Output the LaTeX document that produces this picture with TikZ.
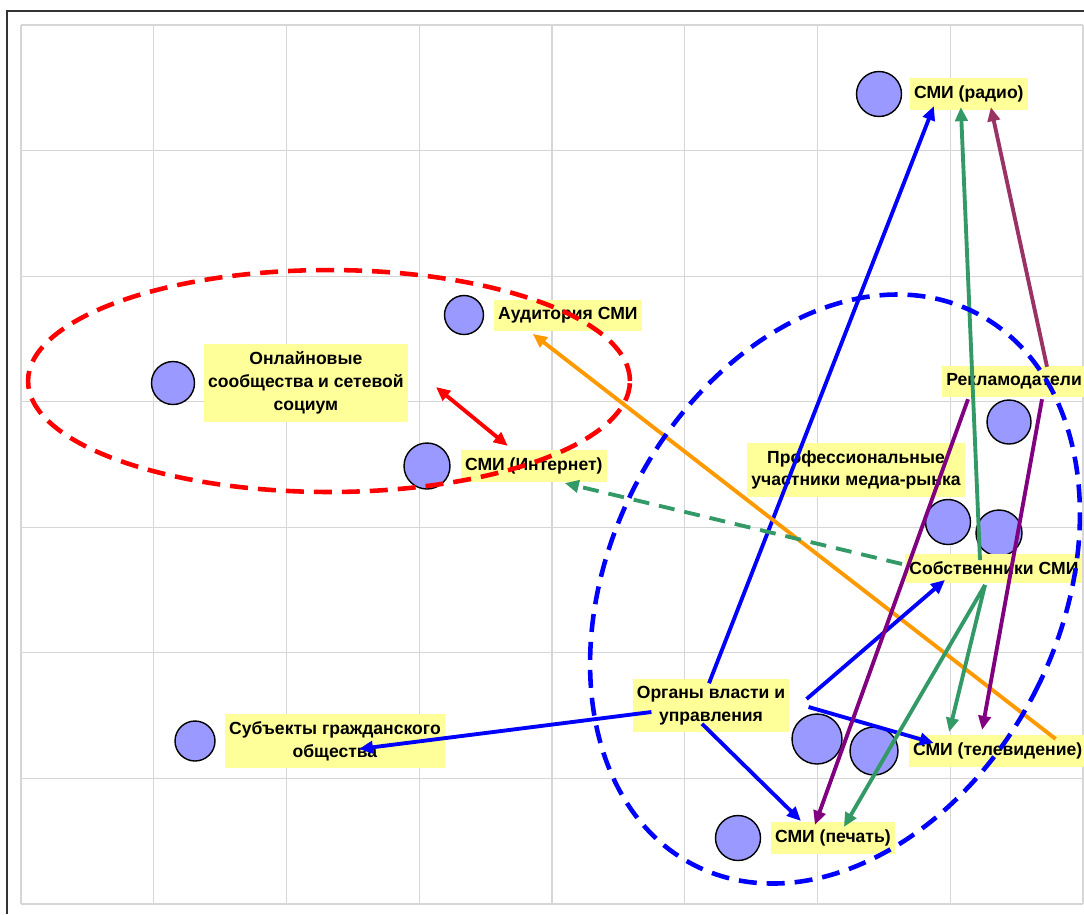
\documentclass[tikz,border=0pt]{standalone}
\usepackage{fontspec}
\setmainfont{Liberation Sans}
\usetikzlibrary{arrows.meta,calc,positioning}

\definecolor{bubblefill}{HTML}{9999FF}
\definecolor{tagfill}{HTML}{FFFF99}
\definecolor{owngreen}{HTML}{339966}
\definecolor{admaroon}{HTML}{993366}
\definecolor{adviolet}{HTML}{800080}
\definecolor{audorange}{HTML}{FF9900}
\definecolor{gridgray}{HTML}{D6D6D6}
\definecolor{framegray}{HTML}{333333}

\begin{document}
\begin{tikzpicture}[x=0.02cm,y=-0.02cm]
\tikzstyle{bubble}=[circle,draw=black,line width=0.8pt,fill=bubblefill,inner sep=0pt]
\tikzstyle{mtag}=[fill=tagfill,align=center,inner xsep=2.3pt,inner ysep=4.3pt,font=\fontsize{10}{13}\selectfont\bfseries]
\tikzstyle{mflow}=[line width=2.2pt,-{Triangle[length=8pt,width=7pt]}]
\tikzstyle{ring}=[line width=2.6pt,dash pattern=on 0.36cm off 0.2cm]
	\useasboundingbox (0,0) rectangle (1084,914);
	\clip (0,0) rectangle (1084,914);

	\foreach \i in {0,...,8}
		\draw[gridgray,line width=0.6pt] ({21+132.75*\i},25) -- ({21+132.75*\i},904);
	\foreach \j in {0,...,7}
		\draw[gridgray,line width=0.6pt] (21,{25+125.57*\j}) -- (1083,{25+125.57*\j});
	\draw[framegray,line width=1.2pt] (7,914) -- (7,11) -- (1084,11);

	\node[bubble,minimum size=0.9cm] (radio) at (879,94) {};
	\node[bubble,minimum size=0.78cm] (aud) at (464,315) {};
	\node[bubble,minimum size=0.86cm] (onl) at (173,383) {};
	\node[bubble,minimum size=0.92cm] (int) at (427,466) {};
	\node[bubble,minimum size=0.8cm] (subj) at (195,741) {};
	\node[bubble,minimum size=0.88cm] (rekl) at (1009,422) {};
	\node[bubble,minimum size=0.9cm] (prof) at (948,522) {};
	\node[bubble,minimum size=0.92cm] (sobs) at (999,533) {};
	\node[bubble,minimum size=1cm] (org) at (817,739) {};
	\node[bubble,minimum size=0.96cm] (tv) at (874,751) {};
	\node[bubble,minimum size=0.9cm] (pech) at (738,838) {};

	\node[mtag,right=0.15cm of radio] (lradio) {СМИ (радио)};
	\node[mtag,right=0.19cm of aud] (laud) {Аудитория СМИ};
	\node[mtag,right=0.17cm of onl] (lonl) {Онлайновые\\сообщества и сетевой\\социум};
	\node[mtag,right=0.2cm of int] (lint) {СМИ (Интернет)};
	\node[mtag,right=0.18cm of subj] (lsubj) {Субъекты гражданского\\общества};
	\node[mtag,anchor=west] (lrekl) at (942,381.5) {Рекламодатели};
	\node[mtag] (lprof) at (856,470) {Профессиональные\\участники медиа-рынка};
	\node[mtag,anchor=west] (lsobs) at (905,568.5) {Собственники СМИ};
	\node[mtag] (lorg) at (711,705.5) {Органы власти и\\управления};
	\node[mtag,right=0.19cm of pech] (lpech) {СМИ (печать)};
	\node[mtag,right=0.2cm of tv] (ltv) {СМИ (телевидение)};

	\draw[mflow,blue] ($(lorg.north)+(-2,5)$) -- ($(lradio.south)+(-35,-4)$);
	\draw[mflow,owngreen] ($(lsobs.north west)+(75,6)$) -- ($(lradio.south)+(-8,-3)$);
	\draw[mflow,admaroon] ($(lrekl.north west)+(105,1)$) -- ($(lradio.south)+(22,-3)$);
	\draw[mflow,audorange] ($(ltv.north east)+(-31,4)$) -- ($(laud.south)+(-35,3)$);
	\draw[mflow,red,{Triangle[length=8pt,width=7pt]}-{Triangle[length=8pt,width=7pt]}] ($(lonl.east)+(28,4)$) -- ($(lint.north)+(-26,-4)$);
	\draw[mflow,owngreen,dash pattern=on 0.32cm off 0.2cm] ($(lsobs.west)+(-3,-4.5)$) -- ($(lint.south)+(31,1)$);
	\draw[mflow,blue] ($(lorg.west)+(19,6.5)$) -- ($(lsubj.center)+(24,8)$);
	\draw[mflow,blue] ($(lorg.east)+(17,-6.5)$) -- ($(lsobs.south west)+(40,-3)$);
	\draw[mflow,blue] ($(lorg.east)+(19,1.5)$) -- ($(ltv.west)+(25,-8)$);
	\draw[mflow,blue] ($(lorg.south)+(-9,-9)$) -- ($(lpech.north)+(-32,-1)$);
	\draw[mflow,adviolet] ($(lrekl.south west)+(26,2)$) -- ($(lpech.north)+(-18,3)$);
	\draw[mflow,adviolet] ($(lrekl.south west)+(100,2)$) -- ($(ltv.north)+(-15.5,-5)$);
	\draw[mflow,owngreen] ($(lsobs.south west)+(80,2)$) -- ($(ltv.north)+(-48.5,-3)$);
	\draw[mflow,owngreen] ($(lsobs.south west)+(80,2)$) -- ($(lpech.north)+(11,5)$);

	\draw[ring,red] (329,381) ellipse [x radius=6.02cm, y radius=2.22cm];
	\draw[ring,blue,shift={(835,589)},rotate=-27] (0,0) ellipse [x radius=4.5cm, y radius=6.2cm];

\end{tikzpicture}
\end{document}
